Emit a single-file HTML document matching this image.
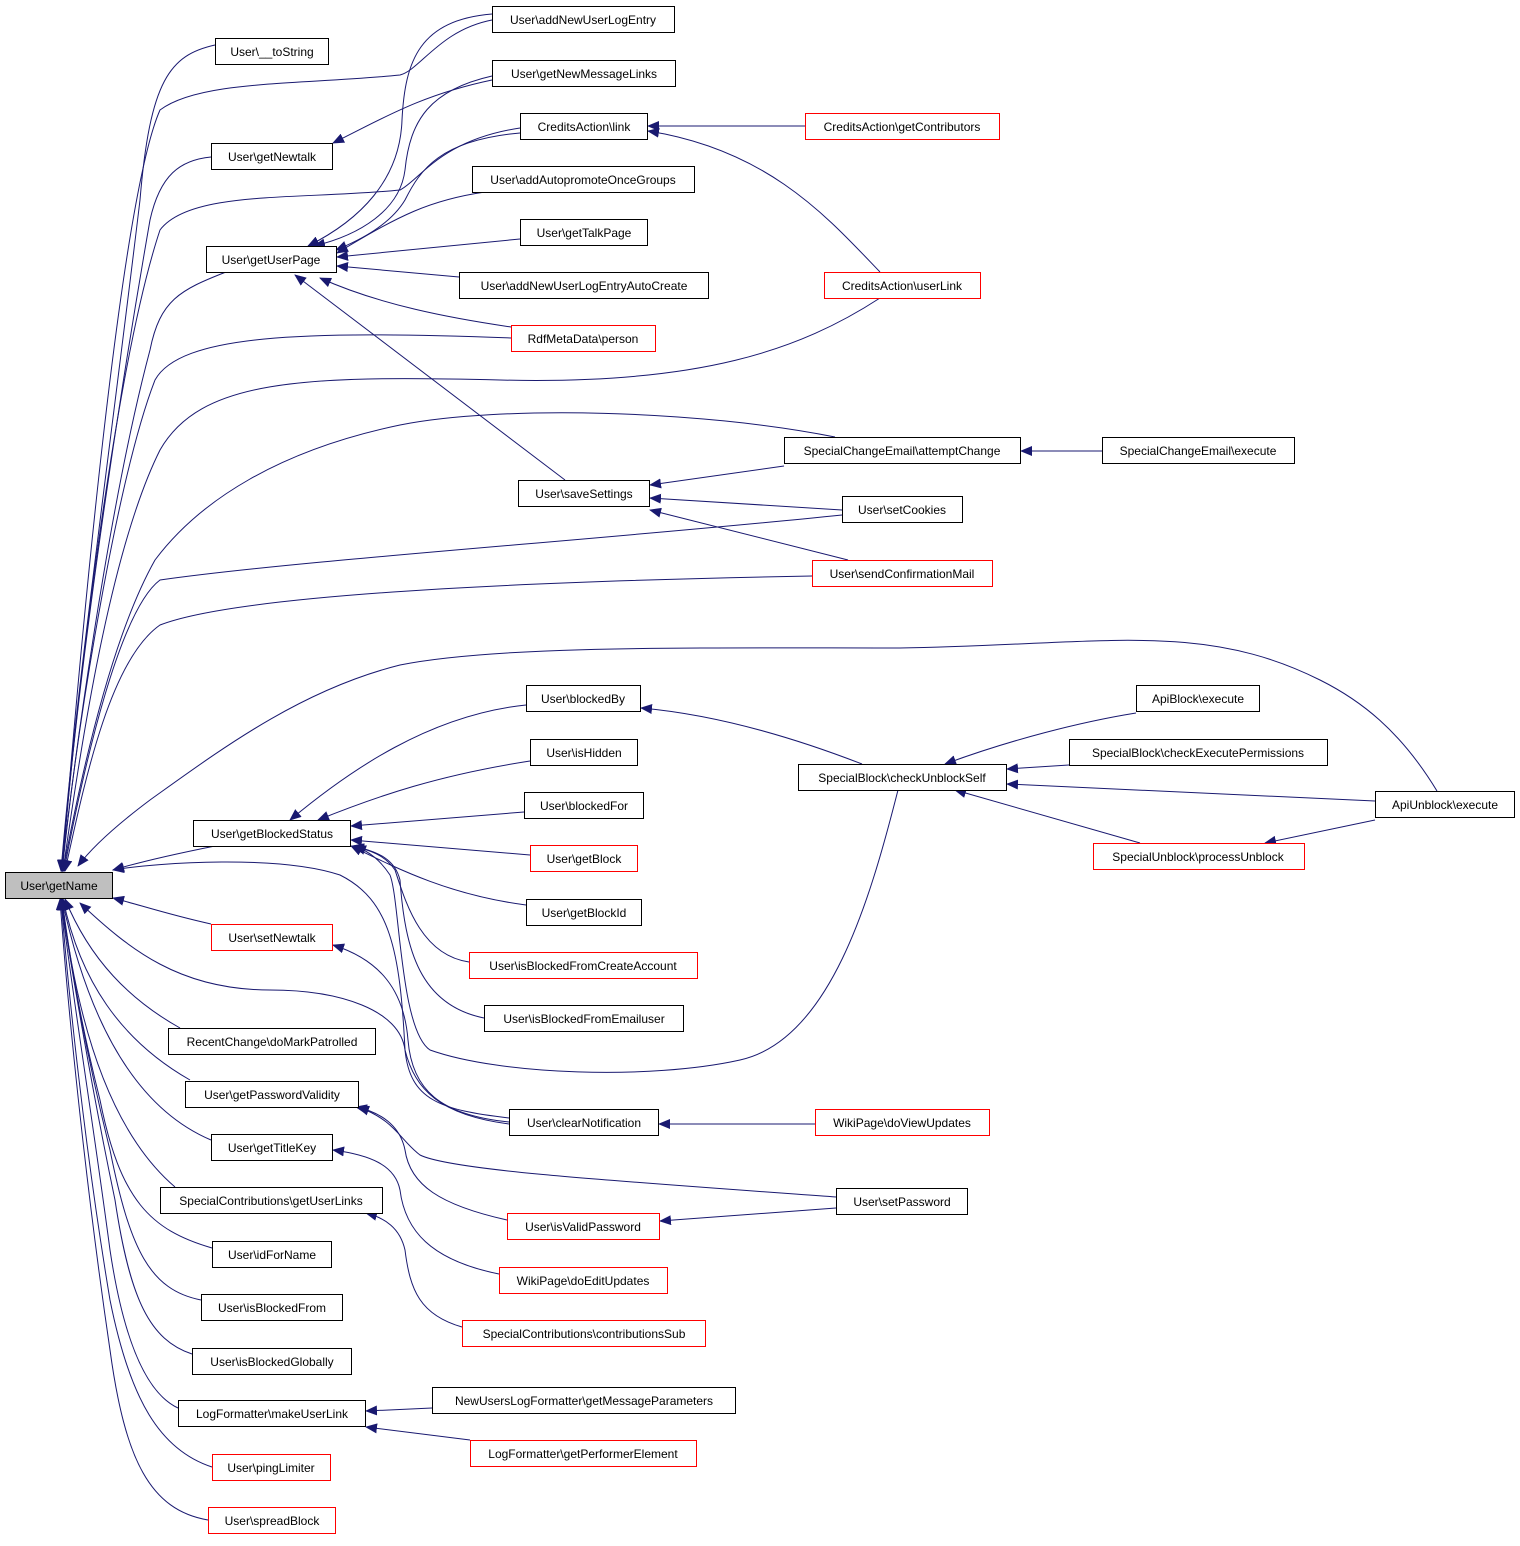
<!DOCTYPE html>
<html><head><meta charset="utf-8"><style>
html,body{margin:0;padding:0;background:#fff;}
svg text{font-family:"Liberation Sans",Arial,sans-serif;font-size:12px;fill:#000;}
</style></head><body>
<svg width="1520" height="1541" viewBox="0 0 1520 1541" xmlns="http://www.w3.org/2000/svg">
<defs><marker id="a" markerWidth="12" markerHeight="10" refX="11" refY="5" orient="auto" markerUnits="userSpaceOnUse"><path d="M0,0 L12,5 L0,10 z" fill="#191970"/></marker></defs>
<g fill="none" stroke="#191970" stroke-width="1" marker-end="url(#a)">
<!-- to getName -->
<path d="M215,45 C170,55 150,80 140,200 C110,450 75,700 61,871"/>
<path d="M492,20 C440,30 420,70 400,75 C300,85 200,80 160,110 C120,200 80,650 62,871"/>
<path d="M211,157 C180,160 160,175 150,220 C110,450 75,700 62,871"/>
<path d="M520,128 C440,140 420,180 400,190 C300,200 190,190 160,230 C120,350 80,650 62,871"/>
<path d="M226,272 C180,290 160,300 150,350 C110,500 75,750 62,871"/>
<path d="M511,338 C300,330 180,335 155,380 C120,470 80,700 62,871"/>
<path d="M880,298 C800,350 700,385 500,380 C300,375 200,380 160,450 C110,550 80,750 63,871"/>
<path d="M835,437 C700,410 500,405 400,425 C280,450 200,500 155,560 C110,640 80,780 63,871"/>
<path d="M842,515 C600,540 300,560 160,580 C120,610 85,760 64,871"/>
<path d="M812,576 C600,580 250,590 160,625 C110,660 85,780 65,871"/>
<path d="M1437,791 C1400,730 1360,700 1320,680 C1200,620 1100,645 900,648 C700,648 500,645 400,665 C300,690 220,750 150,800 C110,830 90,850 78,866"/>
<path d="M215,846 C170,855 140,862 113,870"/>
<path d="M509,1118 C440,1110 410,1100 405,1050 C400,950 390,900 340,875 C280,855 160,862 113,870"/>
<path d="M211,924 C170,915 140,905 113,898"/>
<path d="M509,1124 C440,1115 415,1090 405,1050 C400,1010 340,990 270,990 C180,990 130,950 80,903"/>
<path d="M180,1028 C130,1000 90,960 65,899"/>
<path d="M190,1080 C120,1040 80,980 63,899"/>
<path d="M211,1140 C140,1110 90,1030 62,899"/>
<path d="M175,1187 C120,1140 80,1050 62,899"/>
<path d="M212,1248 C150,1230 120,1200 100,1100 C80,1020 70,960 62,899"/>
<path d="M201,1300 C150,1290 130,1250 110,1150 C85,1050 70,960 61,899"/>
<path d="M192,1354 C150,1340 130,1300 115,1200 C90,1080 70,960 61,899"/>
<path d="M178,1408 C150,1395 125,1350 110,1250 C90,1100 70,980 61,899"/>
<path d="M212,1467 C160,1450 130,1400 110,1300 C85,1150 68,990 61,899"/>
<path d="M208,1520 C150,1510 125,1460 110,1350 C85,1180 67,1000 60,899"/>
<!-- to getUserPage -->
<path d="M492,14 C420,20 405,60 402,120 C400,180 360,220 308,246"/>
<path d="M492,76 C430,90 410,120 405,170 C400,210 360,235 314,246"/>
<path d="M520,133 C440,140 420,170 405,200 C390,225 360,240 336,250"/>
<path d="M485,192 C430,200 400,215 337,253"/>
<path d="M520,239 L337,257"/>
<path d="M459,277 L337,266"/>
<path d="M511,327 C450,318 380,305 320,278"/>
<path d="M565,480 L295,275"/>
<!-- getNewtalk -->
<path d="M492,80 C420,95 380,120 333,143"/>
<!-- CreditsAction link -->
<path d="M805,126 L648,126"/>
<path d="M880,272 C830,220 770,150 648,131"/>
<!-- saveSettings -->
<path d="M784,466 L650,485"/>
<path d="M842,510 L650,498"/>
<path d="M848,560 L650,510"/>
<path d="M1102,451 L1021,451"/>
<!-- getBlockedStatus -->
<path d="M526,705 C430,715 350,770 290,820"/>
<path d="M530,761 C440,775 380,795 318,820"/>
<path d="M524,812 L351,826"/>
<path d="M530,855 L351,840"/>
<path d="M526,905 C450,895 400,870 351,846"/>
<path d="M469,962 C420,955 405,900 395,870 C385,855 370,850 352,846"/>
<path d="M484,1018 C420,1005 405,950 400,880 C395,860 380,852 353,846"/>
<path d="M898,790 C870,900 830,1040 740,1060 C650,1080 500,1075 430,1050 C400,1030 400,900 390,875 C380,860 370,852 355,846"/>
<!-- checkUnblockSelf -->
<path d="M862,764 C800,740 720,715 641,708"/>
<path d="M1136,713 C1080,722 1010,740 945,764"/>
<path d="M1069,765 L1007,769"/>
<path d="M1375,801 L1007,784"/>
<path d="M1140,843 L955,790"/>
<path d="M1375,820 L1265,843"/>
<!-- clearNotification -->
<path d="M815,1124 L659,1124"/>
<!-- setNewtalk <- clearNotification -->
<path d="M509,1122 C440,1115 412,1090 408,1040 C404,990 380,960 333,945"/>
<!-- getPasswordValidity -->
<path d="M836,1197 C600,1180 450,1170 420,1155 C400,1140 395,1120 358,1107"/>
<path d="M507,1220 C440,1205 410,1185 405,1150 C400,1125 380,1112 356,1107"/>
<path d="M836,1208 L660,1221"/>
<!-- getTitleKey -->
<path d="M499,1274 C430,1260 405,1230 400,1190 C395,1165 370,1155 333,1150"/>
<!-- getUserLinks -->
<path d="M462,1327 C420,1315 410,1290 405,1250 C400,1228 385,1218 366,1213"/>
<!-- makeUserLink -->
<path d="M432,1408 L366,1411"/>
<path d="M470,1440 L366,1427"/>
</g>
<g stroke-width="1" fill="#fff">
<rect x="5.5" y="872.5" width="107" height="26" fill="#bfbfbf" stroke="#000"/>
<g stroke="#000">
<rect x="215.5" y="38.5" width="113" height="26"/>
<rect x="211.5" y="143.5" width="121" height="26"/>
<rect x="206.5" y="246.5" width="130" height="26"/>
<rect x="193.5" y="820.5" width="157" height="26"/>
<rect x="168.5" y="1028.5" width="207" height="26"/>
<rect x="185.5" y="1081.5" width="173" height="26"/>
<rect x="211.5" y="1134.5" width="121" height="26"/>
<rect x="160.5" y="1187.5" width="222" height="26"/>
<rect x="212.5" y="1241.5" width="119" height="26"/>
<rect x="201.5" y="1294.5" width="141" height="26"/>
<rect x="192.5" y="1348.5" width="159" height="26"/>
<rect x="178.5" y="1400.5" width="187" height="26"/>
<rect x="492.5" y="6.5" width="182" height="26"/>
<rect x="492.5" y="60.5" width="183" height="26"/>
<rect x="520.5" y="113.5" width="127" height="26"/>
<rect x="472.5" y="166.5" width="222" height="26"/>
<rect x="520.5" y="219.5" width="127" height="26"/>
<rect x="459.5" y="272.5" width="249" height="26"/>
<rect x="518.5" y="480.5" width="131" height="26"/>
<rect x="526.5" y="685.5" width="114" height="26"/>
<rect x="530.5" y="739.5" width="107" height="26"/>
<rect x="524.5" y="792.5" width="119" height="26"/>
<rect x="526.5" y="899.5" width="115" height="26"/>
<rect x="484.5" y="1005.5" width="199" height="26"/>
<rect x="509.5" y="1109.5" width="149" height="26"/>
<rect x="432.5" y="1387.5" width="303" height="26"/>
<rect x="784.5" y="437.5" width="236" height="26"/>
<rect x="842.5" y="496.5" width="120" height="26"/>
<rect x="798.5" y="764.5" width="208" height="26"/>
<rect x="836.5" y="1188.5" width="131" height="26"/>
<rect x="1102.5" y="437.5" width="192" height="26"/>
<rect x="1136.5" y="685.5" width="123" height="26"/>
<rect x="1069.5" y="739.5" width="258" height="26"/>
<rect x="1375.5" y="791.5" width="139" height="26"/>
</g>
<g stroke="#ff0000">
<rect x="211.5" y="924.5" width="121" height="26"/>
<rect x="212.5" y="1454.5" width="118" height="26"/>
<rect x="208.5" y="1507.5" width="127" height="26"/>
<rect x="511.5" y="325.5" width="144" height="26"/>
<rect x="530.5" y="845.5" width="107" height="26"/>
<rect x="469.5" y="952.5" width="228" height="26"/>
<rect x="507.5" y="1213.5" width="152" height="26"/>
<rect x="499.5" y="1267.5" width="168" height="26"/>
<rect x="462.5" y="1320.5" width="243" height="26"/>
<rect x="470.5" y="1440.5" width="226" height="26"/>
<rect x="805.5" y="113.5" width="194" height="26"/>
<rect x="824.5" y="272.5" width="156" height="26"/>
<rect x="812.5" y="560.5" width="180" height="26"/>
<rect x="815.5" y="1109.5" width="174" height="26"/>
<rect x="1093.5" y="843.5" width="211" height="26"/>
</g>
</g>
<g text-anchor="middle">
<text x="59" y="890">User\getName</text>
<text x="272" y="56">User\__toString</text>
<text x="272" y="161">User\getNewtalk</text>
<text x="271" y="264">User\getUserPage</text>
<text x="272" y="838">User\getBlockedStatus</text>
<text x="272" y="942">User\setNewtalk</text>
<text x="272" y="1046">RecentChange\doMarkPatrolled</text>
<text x="272" y="1099">User\getPasswordValidity</text>
<text x="272" y="1152">User\getTitleKey</text>
<text x="271" y="1205">SpecialContributions\getUserLinks</text>
<text x="272" y="1259">User\idForName</text>
<text x="272" y="1312">User\isBlockedFrom</text>
<text x="272" y="1366">User\isBlockedGlobally</text>
<text x="272" y="1418">LogFormatter\makeUserLink</text>
<text x="271" y="1472">User\pingLimiter</text>
<text x="272" y="1525">User\spreadBlock</text>
<text x="583" y="24">User\addNewUserLogEntry</text>
<text x="584" y="78">User\getNewMessageLinks</text>
<text x="584" y="131">CreditsAction\link</text>
<text x="583" y="184">User\addAutopromoteOnceGroups</text>
<text x="584" y="237">User\getTalkPage</text>
<text x="584" y="290">User\addNewUserLogEntryAutoCreate</text>
<text x="583" y="343">RdfMetaData\person</text>
<text x="584" y="498">User\saveSettings</text>
<text x="583" y="703">User\blockedBy</text>
<text x="584" y="757">User\isHidden</text>
<text x="584" y="810">User\blockedFor</text>
<text x="584" y="863">User\getBlock</text>
<text x="584" y="917">User\getBlockId</text>
<text x="583" y="970">User\isBlockedFromCreateAccount</text>
<text x="584" y="1023">User\isBlockedFromEmailuser</text>
<text x="584" y="1127">User\clearNotification</text>
<text x="583" y="1231">User\isValidPassword</text>
<text x="583" y="1285">WikiPage\doEditUpdates</text>
<text x="584" y="1338">SpecialContributions\contributionsSub</text>
<text x="584" y="1405">NewUsersLogFormatter\getMessageParameters</text>
<text x="583" y="1458">LogFormatter\getPerformerElement</text>
<text x="902" y="131">CreditsAction\getContributors</text>
<text x="902" y="290">CreditsAction\userLink</text>
<text x="902" y="455">SpecialChangeEmail\attemptChange</text>
<text x="902" y="514">User\setCookies</text>
<text x="902" y="578">User\sendConfirmationMail</text>
<text x="902" y="782">SpecialBlock\checkUnblockSelf</text>
<text x="902" y="1127">WikiPage\doViewUpdates</text>
<text x="902" y="1206">User\setPassword</text>
<text x="1198" y="455">SpecialChangeEmail\execute</text>
<text x="1198" y="703">ApiBlock\execute</text>
<text x="1198" y="757">SpecialBlock\checkExecutePermissions</text>
<text x="1198" y="861">SpecialUnblock\processUnblock</text>
<text x="1445" y="809">ApiUnblock\execute</text>
</g>
</svg>
</body></html>
